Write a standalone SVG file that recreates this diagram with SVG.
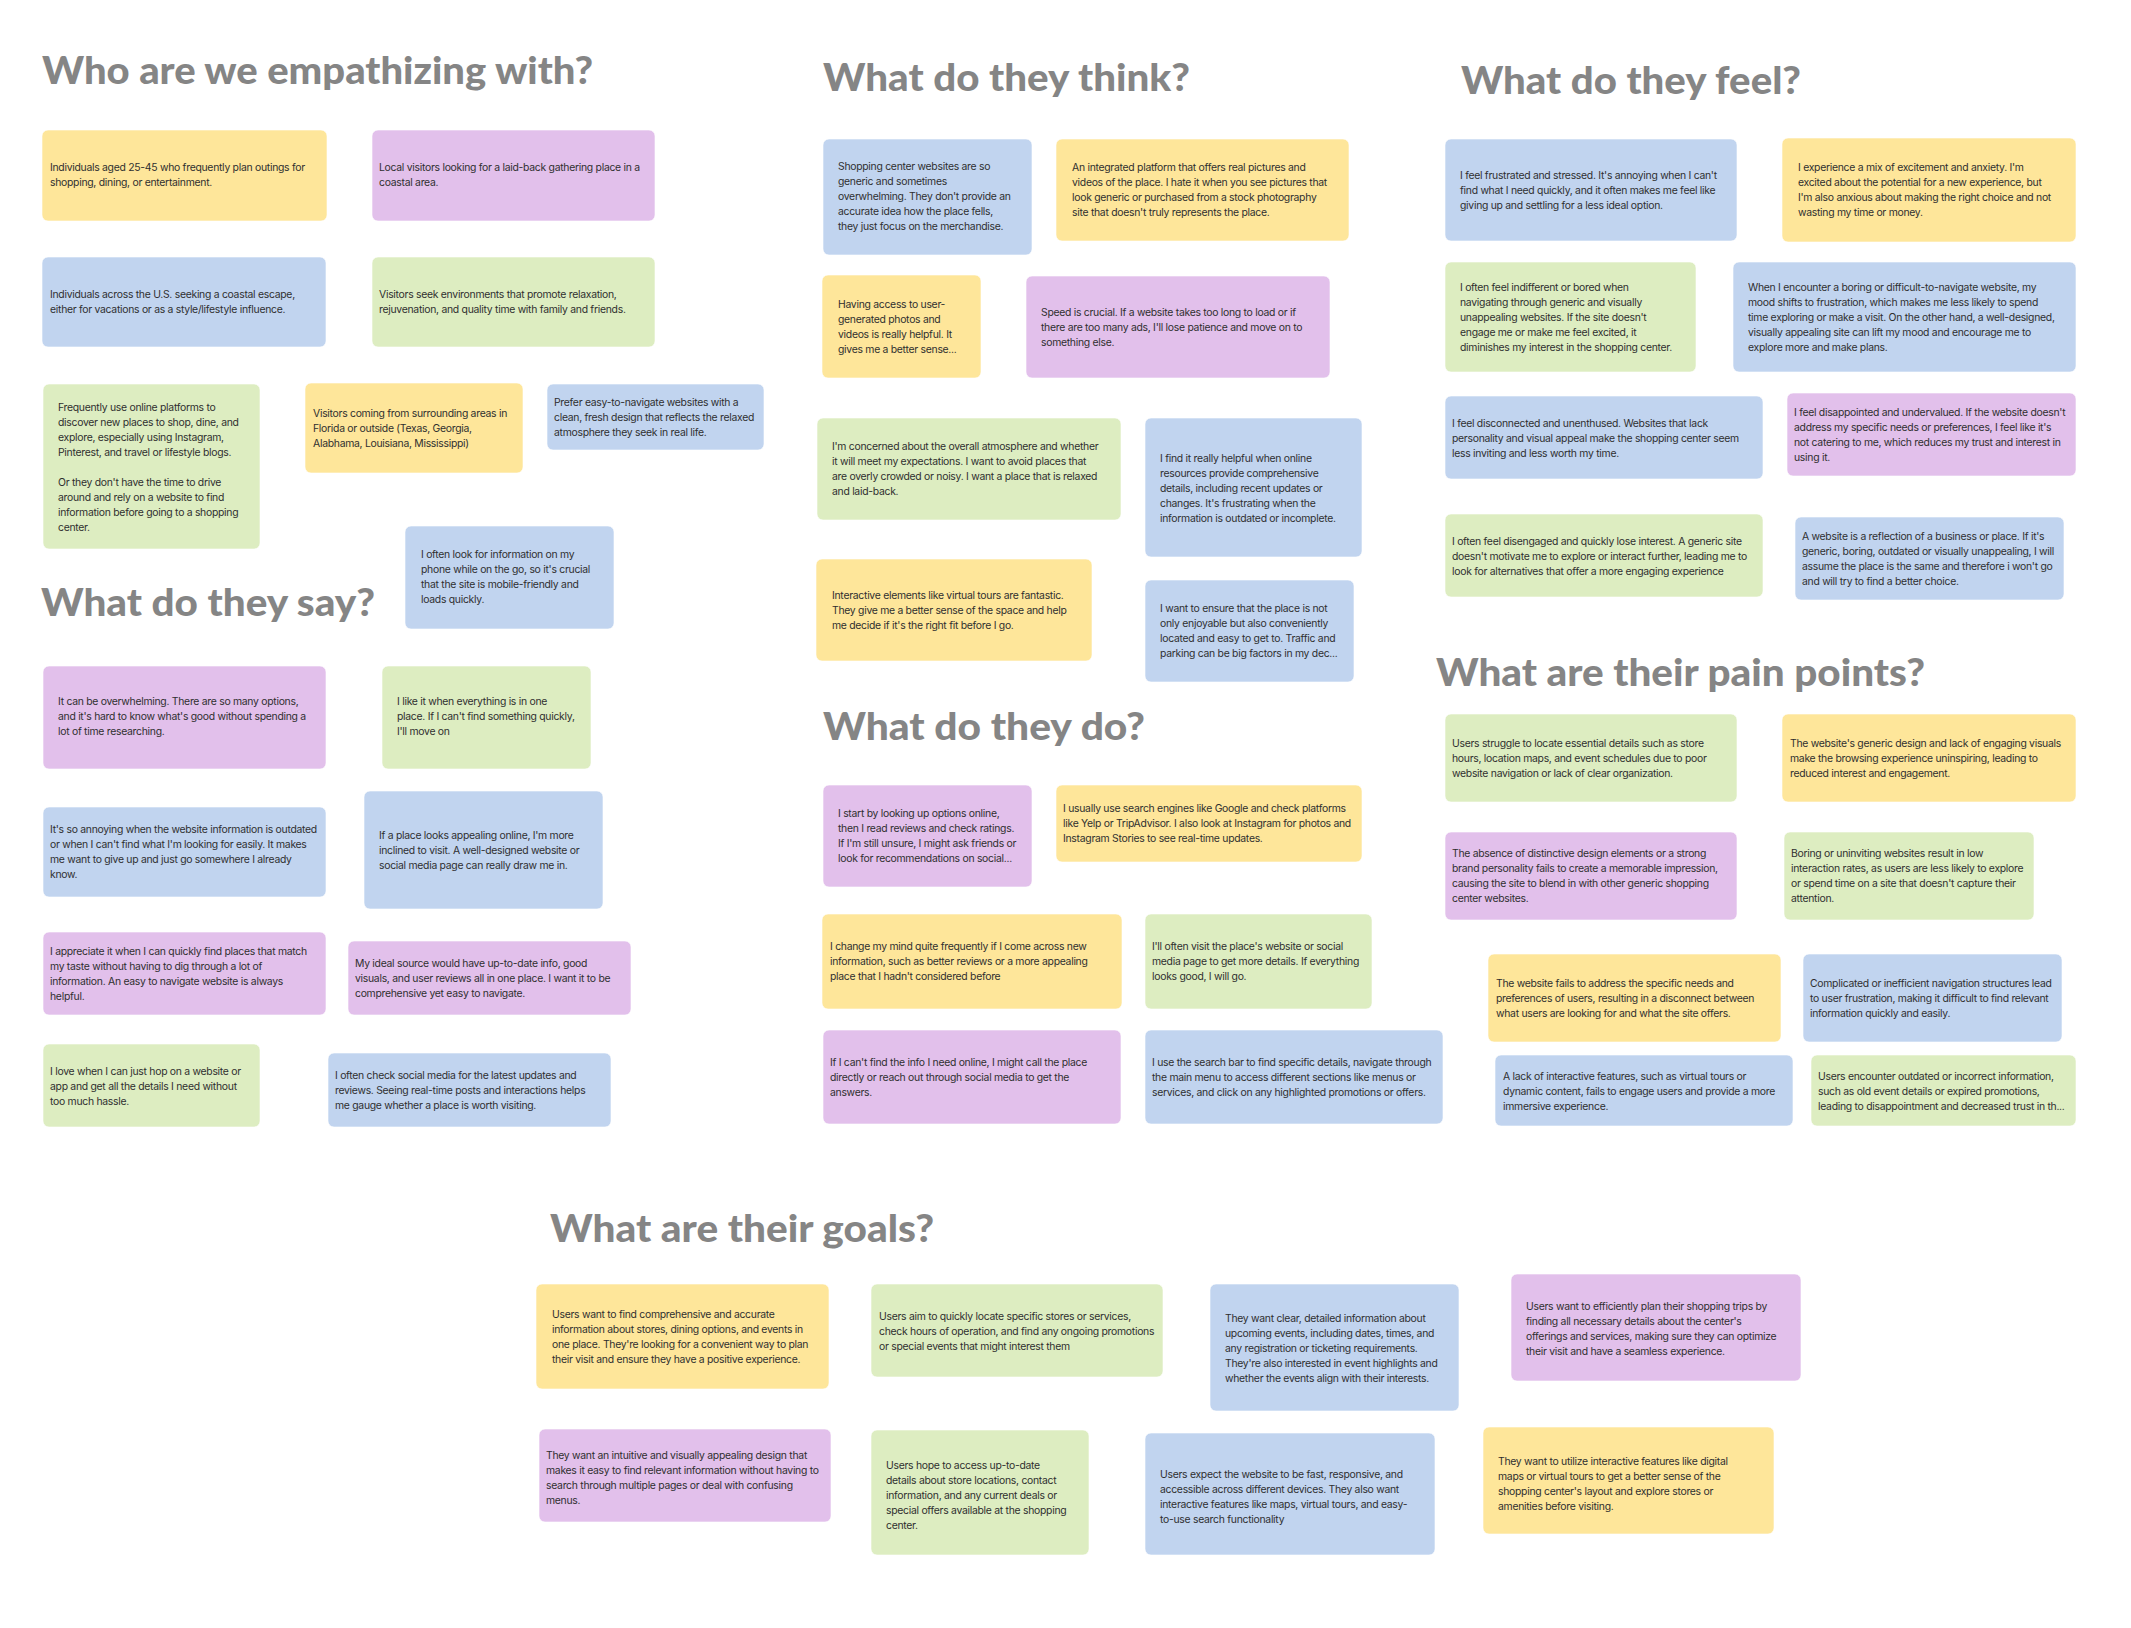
<svg xmlns="http://www.w3.org/2000/svg" width="2131" height="1628" viewBox="0 0 2131 1628">
<style>
.bg{fill:#ffffff}
.h{font-family:Lato,"Noto Sans","Liberation Sans",sans-serif;font-weight:900;font-size:38px;fill:#858585}
.n{rx:6;ry:6;stroke:#ffffff;stroke-opacity:0.6;stroke-width:1}
.y{fill:#fee69a}
.p{fill:#e2c0eb}
.b{fill:#c1d4ef}
.g{fill:#ddedc1}
.t{font-family:Inter,"Noto Sans","Liberation Sans",sans-serif;font-size:10.4px;letter-spacing:-0.28px;fill:#2f2f2f}
</style>
<rect class="bg" x="0" y="0" width="2131" height="1628"/>
<g id="titles">
<text id="title-who" class="h" x="42" y="84" textLength="551" lengthAdjust="spacingAndGlyphs">Who are we empathizing with?</text>
<text id="title-say" class="h" x="41" y="616" textLength="334" lengthAdjust="spacingAndGlyphs">What do they say?</text>
<text id="title-think" class="h" x="823" y="91" textLength="367" lengthAdjust="spacingAndGlyphs">What do they think?</text>
<text id="title-feel" class="h" x="1461" y="94" textLength="340" lengthAdjust="spacingAndGlyphs">What do they feel?</text>
<text id="title-do" class="h" x="823" y="740" textLength="322" lengthAdjust="spacingAndGlyphs">What do they do?</text>
<text id="title-pain" class="h" x="1436" y="686" textLength="489" lengthAdjust="spacingAndGlyphs">What are their pain points?</text>
<text id="title-goals" class="h" x="550" y="1242" textLength="384" lengthAdjust="spacingAndGlyphs">What are their goals?</text>
</g>
<g id="connectors"/>

<!-- Who are we empathizing with -->
<g id="who-1"><rect class="n y" x="42" y="130" width="285" height="91"/><text class="t"><tspan x="50" y="171">Individuals aged 25-45 who frequently plan outings for</tspan><tspan x="50" y="186">shopping, dining, or entertainment.</tspan></text></g>
<g id="who-2"><rect class="n p" x="372" y="130" width="283" height="91"/><text class="t"><tspan x="379" y="171">Local visitors looking for a laid-back gathering place in a</tspan><tspan x="379" y="186">coastal area.</tspan></text></g>
<g id="who-3"><rect class="n b" x="42" y="257" width="284" height="90"/><text class="t"><tspan x="50" y="298">Individuals across the U.S. seeking a coastal escape,</tspan><tspan x="50" y="313">either for vacations or as a style/lifestyle influence.</tspan></text></g>
<g id="who-4"><rect class="n g" x="372" y="257" width="283" height="90"/><text class="t"><tspan x="379" y="298">Visitors seek environments that promote relaxation,</tspan><tspan x="379" y="313">rejuvenation, and quality time with family and friends.</tspan></text></g>
<g id="who-5"><rect class="n g" x="43" y="384" width="217" height="165"/><text class="t"><tspan x="58" y="410.5">Frequently use online platforms to</tspan><tspan x="58" y="425.5">discover new places to shop, dine, and</tspan><tspan x="58" y="440.5">explore, especially using Instagram,</tspan><tspan x="58" y="455.5">Pinterest, and travel or lifestyle blogs.</tspan><tspan x="58" y="485.5">Or they don't have the time to drive</tspan><tspan x="58" y="500.5">around and rely on a website to find</tspan><tspan x="58" y="515.5">information before going to a shopping</tspan><tspan x="58" y="530.5">center.</tspan></text></g>
<g id="who-6"><rect class="n y" x="305" y="383" width="218" height="90"/><text class="t"><tspan x="313" y="417">Visitors coming from surrounding areas in</tspan><tspan x="313" y="432">Florida or outside (Texas, Georgia,</tspan><tspan x="313" y="447">Alabhama, Louisiana, Mississippi)</tspan></text></g>
<g id="who-7"><rect class="n b" x="547" y="384" width="217" height="66"/><text class="t"><tspan x="554" y="405.5">Prefer easy-to-navigate websites with a</tspan><tspan x="554" y="420.5">clean, fresh design that reflects the relaxed</tspan><tspan x="554" y="435.5">atmosphere they seek in real life.</tspan></text></g>

<!-- What do they say -->
<g id="say-0"><rect class="n b" x="405" y="526" width="209" height="103"/><text class="t"><tspan x="421" y="558">I often look for information on my</tspan><tspan x="421" y="573">phone while on the go, so it's crucial</tspan><tspan x="421" y="588">that the site is mobile-friendly and</tspan><tspan x="421" y="603">loads quickly.</tspan></text></g>
<g id="say-1"><rect class="n p" x="43" y="666" width="283" height="103"/><text class="t"><tspan x="58" y="705">It can be overwhelming. There are so many options,</tspan><tspan x="58" y="720">and it's hard to know what's good without spending a</tspan><tspan x="58" y="735">lot of time researching.</tspan></text></g>
<g id="say-2"><rect class="n g" x="382" y="666" width="209" height="103"/><text class="t"><tspan x="397" y="705">I like it when everything is in one</tspan><tspan x="397" y="720">place. If I can't find something quickly,</tspan><tspan x="397" y="735">I'll move on</tspan></text></g>
<g id="say-3"><rect class="n b" x="43" y="807" width="283" height="90"/><text class="t"><tspan x="50" y="833">It's so annoying when the website information is outdated</tspan><tspan x="50" y="848">or when I can't find what I'm looking for easily. It makes</tspan><tspan x="50" y="863">me want to give up and just go somewhere I already</tspan><tspan x="50" y="878">know.</tspan></text></g>
<g id="say-4"><rect class="n b" x="364" y="791" width="239" height="118"/><text class="t"><tspan x="379" y="839">If a place looks appealing online, I'm more</tspan><tspan x="379" y="854">inclined to visit. A well-designed website or</tspan><tspan x="379" y="869">social media page can really draw me in.</tspan></text></g>
<g id="say-5"><rect class="n p" x="43" y="932" width="283" height="83"/><text class="t"><tspan x="50" y="955">I appreciate it when I can quickly find places that match</tspan><tspan x="50" y="970">my taste without having to dig through a lot of</tspan><tspan x="50" y="985">information. An easy to navigate website is always</tspan><tspan x="50" y="1000">helpful.</tspan></text></g>
<g id="say-6"><rect class="n p" x="348" y="941" width="283" height="74"/><text class="t"><tspan x="355" y="967">My ideal source would have up-to-date info, good</tspan><tspan x="355" y="982">visuals, and user reviews all in one place. I want it to be</tspan><tspan x="355" y="997">comprehensive yet easy to navigate.</tspan></text></g>
<g id="say-7"><rect class="n g" x="43" y="1044" width="217" height="83"/><text class="t"><tspan x="50" y="1074.5">I love when I can just hop on a website or</tspan><tspan x="50" y="1089.5">app and get all the details I need without</tspan><tspan x="50" y="1104.5">too much hassle.</tspan></text></g>
<g id="say-8"><rect class="n b" x="328" y="1053" width="283" height="74"/><text class="t"><tspan x="335" y="1078.5">I often check social media for the latest updates and</tspan><tspan x="335" y="1093.5">reviews. Seeing real-time posts and interactions helps</tspan><tspan x="335" y="1108.5">me gauge whether a place is worth visiting.</tspan></text></g>

<!-- What do they think -->
<g id="think-1"><rect class="n b" x="823" y="139" width="209" height="116"/><text class="t"><tspan x="838" y="170">Shopping center websites are so</tspan><tspan x="838" y="185">generic and sometimes</tspan><tspan x="838" y="200">overwhelming. They don't provide an</tspan><tspan x="838" y="215">accurate idea how the place fells,</tspan><tspan x="838" y="230">they just focus on the merchandise.</tspan></text></g>
<g id="think-2"><rect class="n y" x="1056" y="139" width="293" height="102"/><text class="t"><tspan x="1072" y="170.5">An integrated platform that offers real pictures and</tspan><tspan x="1072" y="185.5">videos of the place. I hate it when you see pictures that</tspan><tspan x="1072" y="200.5">look generic or purchased from a stock photography</tspan><tspan x="1072" y="215.5">site that doesn't truly represents the place.</tspan></text></g>
<g id="think-3"><rect class="n y" x="822" y="275" width="159" height="103"/><text class="t"><tspan x="838" y="308">Having access to user-</tspan><tspan x="838" y="323">generated photos and</tspan><tspan x="838" y="338">videos is really helpful. It</tspan><tspan x="838" y="353">gives me a better sense...</tspan></text></g>
<g id="think-4"><rect class="n p" x="1026" y="276" width="304" height="102"/><text class="t"><tspan x="1041" y="315.5">Speed is crucial. If a website takes too long to load or if</tspan><tspan x="1041" y="330.5">there are too many ads, I'll lose patience and move on to</tspan><tspan x="1041" y="345.5">something else.</tspan></text></g>
<g id="think-5"><rect class="n g" x="817" y="418" width="304" height="102"/><text class="t"><tspan x="832" y="449.5">I'm concerned about the overall atmosphere and whether</tspan><tspan x="832" y="464.5">it will meet my expectations. I want to avoid places that</tspan><tspan x="832" y="479.5">are overly crowded or noisy. I want a place that is relaxed</tspan><tspan x="832" y="494.5">and laid-back.</tspan></text></g>
<g id="think-6"><rect class="n b" x="1145" y="418" width="217" height="139"/><text class="t"><tspan x="1160" y="461.5">I find it really helpful when online</tspan><tspan x="1160" y="476.5">resources provide comprehensive</tspan><tspan x="1160" y="491.5">details, including recent updates or</tspan><tspan x="1160" y="506.5">changes. It's frustrating when the</tspan><tspan x="1160" y="521.5">information is outdated or incomplete.</tspan></text></g>
<g id="think-7"><rect class="n y" x="816" y="559" width="276" height="102"/><text class="t"><tspan x="832" y="598.5">Interactive elements like virtual tours are fantastic.</tspan><tspan x="832" y="613.5">They give me a better sense of the space and help</tspan><tspan x="832" y="628.5">me decide if it's the right fit before I go.</tspan></text></g>
<g id="think-8"><rect class="n b" x="1145" y="580" width="209" height="102"/><text class="t"><tspan x="1160" y="612">I want to ensure that the place is not</tspan><tspan x="1160" y="627">only enjoyable but also conveniently</tspan><tspan x="1160" y="642">located and easy to get to. Traffic and</tspan><tspan x="1160" y="657">parking can be big factors in my dec...</tspan></text></g>

<!-- What do they do -->
<g id="do-1"><rect class="n p" x="823" y="785" width="209" height="102"/><text class="t"><tspan x="838" y="817">I start by looking up options online,</tspan><tspan x="838" y="832">then I read reviews and check ratings.</tspan><tspan x="838" y="847">If I'm still unsure, I might ask friends or</tspan><tspan x="838" y="862">look for recommendations on social...</tspan></text></g>
<g id="do-2"><rect class="n y" x="1056" y="785" width="306" height="77"/><text class="t"><tspan x="1063" y="812">I usually use search engines like Google and check platforms</tspan><tspan x="1063" y="827">like Yelp or TripAdvisor. I also look at Instagram for photos and</tspan><tspan x="1063" y="842">Instagram Stories to see real-time updates.</tspan></text></g>
<g id="do-3"><rect class="n y" x="822" y="914" width="300" height="95"/><text class="t"><tspan x="830" y="950">I change my mind quite frequently if I come across new</tspan><tspan x="830" y="965">information, such as better reviews or a more appealing</tspan><tspan x="830" y="980">place that I hadn't considered before</tspan></text></g>
<g id="do-4"><rect class="n g" x="1145" y="914" width="227" height="95"/><text class="t"><tspan x="1152" y="950">I'll often visit the place's website or social</tspan><tspan x="1152" y="965">media page to get more details. If everything</tspan><tspan x="1152" y="980">looks good, I will go.</tspan></text></g>
<g id="do-5"><rect class="n p" x="823" y="1030" width="298" height="94"/><text class="t"><tspan x="830" y="1066">If I can't find the info I need online, I might call the place</tspan><tspan x="830" y="1081">directly or reach out through social media to get the</tspan><tspan x="830" y="1096">answers.</tspan></text></g>
<g id="do-6"><rect class="n b" x="1145" y="1030" width="298" height="94"/><text class="t"><tspan x="1152" y="1066">I use the search bar to find specific details, navigate through</tspan><tspan x="1152" y="1081">the main menu to access different sections like menus or</tspan><tspan x="1152" y="1096">services, and click on any highlighted promotions or offers.</tspan></text></g>

<!-- What do they feel -->
<g id="feel-1"><rect class="n b" x="1445" y="139" width="292" height="102"/><text class="t"><tspan x="1460" y="178.5">I feel frustrated and stressed. It's annoying when I can't</tspan><tspan x="1460" y="193.5">find what I need quickly, and it often makes me feel like</tspan><tspan x="1460" y="208.5">giving up and settling for a less ideal option.</tspan></text></g>
<g id="feel-2"><rect class="n y" x="1782" y="138" width="294" height="104"/><text class="t"><tspan x="1798" y="171">I experience a mix of excitement and anxiety. I'm</tspan><tspan x="1798" y="186">excited about the potential for a new experience, but</tspan><tspan x="1798" y="201">I'm also anxious about making the right choice and not</tspan><tspan x="1798" y="216">wasting my time or money.</tspan></text></g>
<g id="feel-3"><rect class="n g" x="1445" y="262" width="251" height="110"/><text class="t"><tspan x="1460" y="290.5">I often feel indifferent or bored when</tspan><tspan x="1460" y="305.5">navigating through generic and visually</tspan><tspan x="1460" y="320.5">unappealing websites. If the site doesn't</tspan><tspan x="1460" y="335.5">engage me or make me feel excited, it</tspan><tspan x="1460" y="350.5">diminishes my interest in the shopping center.</tspan></text></g>
<g id="feel-4"><rect class="n b" x="1733" y="262" width="343" height="110"/><text class="t"><tspan x="1748" y="290.5">When I encounter a boring or difficult-to-navigate website, my</tspan><tspan x="1748" y="305.5">mood shifts to frustration, which makes me less likely to spend</tspan><tspan x="1748" y="320.5">time exploring or make a visit. On the other hand, a well-designed,</tspan><tspan x="1748" y="335.5">visually appealing site can lift my mood and encourage me to</tspan><tspan x="1748" y="350.5">explore more and make plans.</tspan></text></g>
<g id="feel-5"><rect class="n b" x="1445" y="396" width="318" height="83"/><text class="t"><tspan x="1452" y="426.5">I feel disconnected and unenthused. Websites that lack</tspan><tspan x="1452" y="441.5">personality and visual appeal make the shopping center seem</tspan><tspan x="1452" y="456.5">less inviting and less worth my time.</tspan></text></g>
<g id="feel-6"><rect class="n p" x="1787" y="393" width="289" height="83"/><text class="t"><tspan x="1794" y="416">I feel disappointed and undervalued. If the website doesn't</tspan><tspan x="1794" y="431">address my specific needs or preferences, I feel like it's</tspan><tspan x="1794" y="446">not catering to me, which reduces my trust and interest in</tspan><tspan x="1794" y="461">using it.</tspan></text></g>
<g id="feel-7"><rect class="n g" x="1445" y="514" width="318" height="83"/><text class="t"><tspan x="1452" y="545">I often feel disengaged and quickly lose interest. A generic site</tspan><tspan x="1452" y="560">doesn't motivate me to explore or interact further, leading me to</tspan><tspan x="1452" y="575">look for alternatives that offer a more engaging experience</tspan></text></g>
<g id="feel-8"><rect class="n b" x="1795" y="517" width="269" height="83"/><text class="t"><tspan x="1802" y="540">A website is a reflection of a business or place. If it's</tspan><tspan x="1802" y="555">generic, boring, outdated or visually unappealing, I will</tspan><tspan x="1802" y="570">assume the place is the same and therefore i won't go</tspan><tspan x="1802" y="585">and will try to find a better choice.</tspan></text></g>

<!-- Pain points -->
<g id="pain-1"><rect class="n g" x="1445" y="714" width="292" height="88"/><text class="t"><tspan x="1452" y="747">Users struggle to locate essential details such as store</tspan><tspan x="1452" y="762">hours, location maps, and event schedules due to poor</tspan><tspan x="1452" y="777">website navigation or lack of clear organization.</tspan></text></g>
<g id="pain-2"><rect class="n y" x="1782" y="714" width="294" height="88"/><text class="t"><tspan x="1790" y="747">The website's generic design and lack of engaging visuals</tspan><tspan x="1790" y="762">make the browsing experience uninspiring, leading to</tspan><tspan x="1790" y="777">reduced interest and engagement.</tspan></text></g>
<g id="pain-3"><rect class="n p" x="1445" y="832" width="292" height="88"/><text class="t"><tspan x="1452" y="857">The absence of distinctive design elements or a strong</tspan><tspan x="1452" y="872">brand personality fails to create a memorable impression,</tspan><tspan x="1452" y="887">causing the site to blend in with other generic shopping</tspan><tspan x="1452" y="902">center websites.</tspan></text></g>
<g id="pain-4"><rect class="n g" x="1784" y="832" width="250" height="88"/><text class="t"><tspan x="1791" y="857">Boring or uninviting websites result in low</tspan><tspan x="1791" y="872">interaction rates, as users are less likely to explore</tspan><tspan x="1791" y="887">or spend time on a site that doesn't capture their</tspan><tspan x="1791" y="902">attention.</tspan></text></g>
<g id="pain-5"><rect class="n y" x="1488" y="954" width="293" height="88"/><text class="t"><tspan x="1496" y="987">The website fails to address the specific needs and</tspan><tspan x="1496" y="1002">preferences of users, resulting in a disconnect between</tspan><tspan x="1496" y="1017">what users are looking for and what the site offers.</tspan></text></g>
<g id="pain-6"><rect class="n b" x="1803" y="954" width="259" height="88"/><text class="t"><tspan x="1810" y="987">Complicated or inefficient navigation structures lead</tspan><tspan x="1810" y="1002">to user frustration, making it difficult to find relevant</tspan><tspan x="1810" y="1017">information quickly and easily.</tspan></text></g>
<g id="pain-7"><rect class="n b" x="1495" y="1055" width="298" height="71"/><text class="t"><tspan x="1503" y="1079.5">A lack of interactive features, such as virtual tours or</tspan><tspan x="1503" y="1094.5">dynamic content, fails to engage users and provide a more</tspan><tspan x="1503" y="1109.5">immersive experience.</tspan></text></g>
<g id="pain-8"><rect class="n g" x="1811" y="1055" width="265" height="71"/><text class="t"><tspan x="1818" y="1079.5">Users encounter outdated or incorrect information,</tspan><tspan x="1818" y="1094.5">such as old event details or expired promotions,</tspan><tspan x="1818" y="1109.5">leading to disappointment and decreased trust in th...</tspan></text></g>

<!-- Goals -->
<g id="goal-1"><rect class="n y" x="536" y="1284" width="293" height="105"/><text class="t"><tspan x="552" y="1318">Users want to find comprehensive and accurate</tspan><tspan x="552" y="1333">information about stores, dining options, and events in</tspan><tspan x="552" y="1348">one place. They're looking for a convenient way to plan</tspan><tspan x="552" y="1363">their visit and ensure they have a positive experience.</tspan></text></g>
<g id="goal-2"><rect class="n g" x="871" y="1284" width="292" height="93"/><text class="t"><tspan x="879" y="1319.5">Users aim to quickly locate specific stores or services,</tspan><tspan x="879" y="1334.5">check hours of operation, and find any ongoing promotions</tspan><tspan x="879" y="1349.5">or special events that might interest them</tspan></text></g>
<g id="goal-3"><rect class="n b" x="1210" y="1284" width="249" height="127"/><text class="t"><tspan x="1225" y="1322">They want clear, detailed information about</tspan><tspan x="1225" y="1337">upcoming events, including dates, times, and</tspan><tspan x="1225" y="1352">any registration or ticketing requirements.</tspan><tspan x="1225" y="1367">They're also interested in event highlights and</tspan><tspan x="1225" y="1382">whether the events align with their interests.</tspan></text></g>
<g id="goal-4"><rect class="n p" x="1511" y="1274" width="290" height="107"/><text class="t"><tspan x="1526" y="1310">Users want to efficiently plan their shopping trips by</tspan><tspan x="1526" y="1325">finding all necessary details about the center's</tspan><tspan x="1526" y="1340">offerings and services, making sure they can optimize</tspan><tspan x="1526" y="1355">their visit and have a seamless experience.</tspan></text></g>
<g id="goal-5"><rect class="n p" x="539" y="1429" width="292" height="93"/><text class="t"><tspan x="546" y="1459">They want an intuitive and visually appealing design that</tspan><tspan x="546" y="1474">makes it easy to find relevant information without having to</tspan><tspan x="546" y="1489">search through multiple pages or deal with confusing</tspan><tspan x="546" y="1504">menus.</tspan></text></g>
<g id="goal-6"><rect class="n g" x="871" y="1430" width="218" height="125"/><text class="t"><tspan x="886" y="1469">Users hope to access up-to-date</tspan><tspan x="886" y="1484">details about store locations, contact</tspan><tspan x="886" y="1499">information, and any current deals or</tspan><tspan x="886" y="1514">special offers available at the shopping</tspan><tspan x="886" y="1529">center.</tspan></text></g>
<g id="goal-7"><rect class="n b" x="1145" y="1433" width="290" height="122"/><text class="t"><tspan x="1160" y="1478">Users expect the website to be fast, responsive, and</tspan><tspan x="1160" y="1493">accessible across different devices. They also want</tspan><tspan x="1160" y="1508">interactive features like maps, virtual tours, and easy-</tspan><tspan x="1160" y="1523">to-use search functionality</tspan></text></g>
<g id="goal-8"><rect class="n y" x="1483" y="1427" width="291" height="107"/><text class="t"><tspan x="1498" y="1465">They want to utilize interactive features like digital</tspan><tspan x="1498" y="1480">maps or virtual tours to get a better sense of the</tspan><tspan x="1498" y="1495">shopping center's layout and explore stores or</tspan><tspan x="1498" y="1510">amenities before visiting.</tspan></text></g>
</svg>
